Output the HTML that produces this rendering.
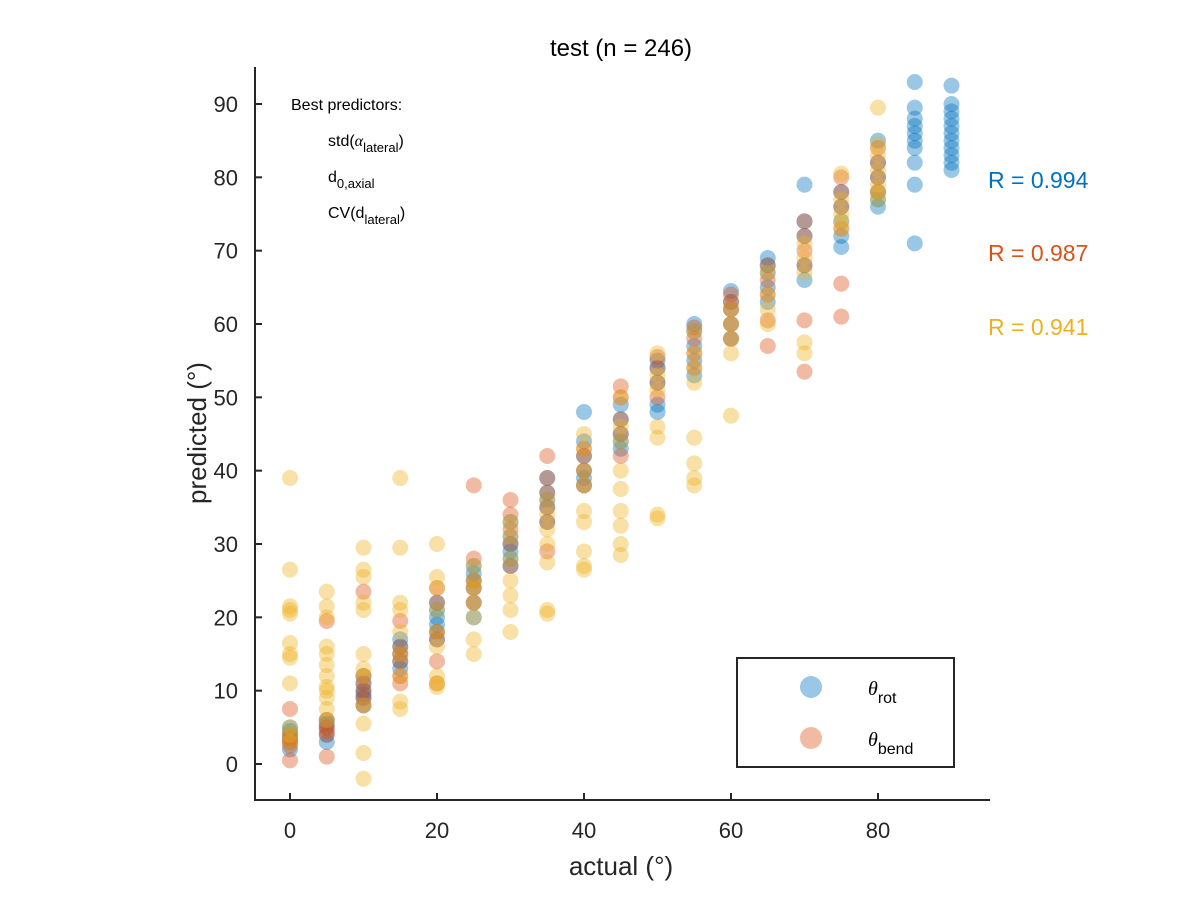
<!DOCTYPE html>
<html><head><meta charset="utf-8"><style>
body{margin:0;background:#fff}
svg text{font-family:"Liberation Sans",Arial,sans-serif;fill:#262626}
</style></head><body>
<svg id="chart" width="1200" height="900" xmlns="http://www.w3.org/2000/svg">
<rect width="1200" height="900" fill="#fff"/>
<text x="621" y="56" font-size="24" text-anchor="middle" style="fill:#000">test (n = 246)</text>
<g id="marks"></g>
<g id="axes"></g>
<text x="621" y="875" font-size="26" text-anchor="middle">actual (°)</text>
<text transform="translate(206,433) rotate(-90)" font-size="26" text-anchor="middle">predicted (°)</text>
<g font-size="16" style="fill:#000">
<text x="291" y="110" style="fill:#000">Best predictors:</text>
<text x="328" y="146" style="fill:#000">std(<tspan font-style="italic" font-family="Liberation Serif">α</tspan><tspan font-size="13" dy="6">lateral</tspan><tspan dy="-6">)</tspan></text>
<text x="328" y="182" style="fill:#000">d<tspan font-size="13" dy="6">0,axial</tspan></text>
<text x="328" y="218" style="fill:#000">CV(d<tspan font-size="13" dy="6">lateral</tspan><tspan dy="-6">)</tspan></text>
</g>
<text x="988" y="188" font-size="23" style="fill:#0072BD">R = 0.994</text>
<text x="988" y="261" font-size="23" style="fill:#D95319">R = 0.987</text>
<text x="988" y="335" font-size="23" style="fill:#EDB120">R = 0.941</text>
<g>
<rect x="737" y="658" width="217" height="109" fill="#fff" stroke="#262626" stroke-width="2"/>
<circle cx="811" cy="687" r="11" fill="#0072BD" fill-opacity="0.4"/>
<text x="868" y="695" font-size="20" style="fill:#000"><tspan font-style="italic" font-family="Liberation Serif">θ</tspan><tspan font-size="16" dy="8">rot</tspan></text>
<circle cx="811" cy="738" r="11" fill="#D95319" fill-opacity="0.4"/>
<text x="868" y="746" font-size="20" style="fill:#000"><tspan font-style="italic" font-family="Liberation Serif">θ</tspan><tspan font-size="16" dy="8">bend</tspan></text>
</g>
</svg>
<script>
const xTicks=[0,20,40,60,80];
const yTicks=[0,10,20,30,40,50,60,70,80,90];
const rotActual=[0,0,0,0,0,0,5,5,5,5,5,10,10,10,10,10,10,15,15,15,15,15,20,20,20,20,20,20,25,25,25,25,25,25,30,30,30,30,30,30,35,35,35,35,35,40,40,40,40,40,40,45,45,45,45,45,50,50,50,50,50,55,55,55,55,55,60,60,60,60,60,65,65,65,65,65,70,70,70,70,70,75,75,75,75,75,80,80,80,80,80,80,85,85,85,85,85,85,85,85,85,85,90,90,90,90,90,90,90,90,90,90,90];
const rotPred=[3,4,5,3.5,2,4.5,5,6,4,5.5,3,9,10,8,11,9.5,12,14,16,13,15,17,18,20,22,21,19,17,22,24,26,25,27,20,28,30,31,33,29,27,33,35,37,36,39,38,40,42,44,48,39,43,45,47,44,49,48,49,52,54,55,53,55,57,60,59,58,60,62,64.5,63,63,65,67,69,68,66,68,72,74,79,72,74,76,78,70.5,76,77,78,80,82,85,79,82,84,85,86,87,88,89.5,93,71,81,82,84,85,86,87,88,89,90,92.5,83];
const bendActual=[0,0,0,0,0,0,5,5,5,5,5,5,10,10,10,10,10,10,15,15,15,15,15,15,20,20,20,20,20,20,25,25,25,25,25,30,30,30,30,30,35,35,35,35,35,35,40,40,40,40,45,45,45,45,45,50,50,50,50,55,55,55,55,60,60,60,60,60,65,65,65,65,65,70,70,70,70,70,70,75,75,75,75,75,75,80,80,80,80];
const bendPred=[0.5,3,3.5,4,7.5,2.5,1,4,5,6,4.5,19.5,8,9,10,11,23.5,12,12,14,15,16,19.5,11,14,17,18,22,24,11,22,24,25,28,38,27,30,32,34,36,33,35,37,39,42,29,38,40,42,43,42,45,47,50,51.5,50,52,54,55.5,54,56,58,59.5,58,60,62,64,63,57,60.5,64,66,68,53.5,60.5,68,70,72,74,61,65.5,73,76,78,80,78,80,82,84];
const thirdActual=[0,0,0,0,0,0,0,0,0,0,0,0,5,5,5,5,5,5,5,5,5,5,5,5,10,10,10,10,10,10,10,10,10,10,10,10,15,15,15,15,15,15,15,15,15,20,20,20,20,20,20,20,20,20,25,25,25,25,25,25,25,30,30,30,30,30,30,30,35,35,35,35,35,35,35,40,40,40,40,40,40,40,40,40,45,45,45,45,45,45,45,45,45,50,50,50,50,50,50,50,55,55,55,55,55,55,55,55,60,60,60,60,60,65,65,65,65,70,70,70,70,70,75,75,75,75,75,80,80,80,80,80,80,80];
const thirdPred=[39,26.5,21,20.5,16.5,15,14.5,11,5,4,3,21.5,23.5,21.5,20,16,15,13.5,12,10.5,10,9,7.5,6,29.5,26.5,25.5,22,21,15,13,12,8,5.5,1.5,-2,39,29.5,22,21,18,15,12,8.5,7.5,30,25.5,24,21,18,16,12,10.5,11,27,25,24,22,20,17,15,33,31,28,25,23,21,18,36,34,32,30,27.5,21,20.5,45,43,40,38,34.5,29,27,26.5,33,50,46,44,40,37.5,34.5,32.5,30,28.5,56,53,51,46,44.5,34,33.5,59,56,54,52,44.5,41,39,38,62,60,58,56,47.5,67,64,62,60,71,69,67,57.5,56,80.5,77,75,74,73,89.5,84.5,83,81,79,78,77];

const NS='http://www.w3.org/2000/svg';
const X0=290,XS=(878-290)/80,Y0=764,YS=(764-104)/90;
const sx=v=>X0+v*XS, sy=v=>Y0-v*YS;
const marks=document.getElementById('marks');
function series(xs,ys,color,name){
  const g=document.createElementNS(NS,'g');
  
  
  xs.forEach((x,i)=>{
    const c=document.createElementNS(NS,'circle');
    
    
    c.setAttribute('cx',sx(x));c.setAttribute('cy',sy(ys[i]));
    c.setAttribute('r',8);c.setAttribute('fill',color);c.setAttribute('fill-opacity',0.4);
    g.appendChild(c);
  });
  marks.appendChild(g);
}
series(rotActual,rotPred,'#0072BD','series-rot');
series(bendActual,bendPred,'#D95319','series-bend');
series(thirdActual,thirdPred,'#EDB120','series-third');

const axes=document.getElementById('axes');
function line(x1,y1,x2,y2,name){
  const l=document.createElementNS(NS,'line');
  
  
  l.setAttribute('x1',x1);l.setAttribute('y1',y1);l.setAttribute('x2',x2);l.setAttribute('y2',y2);
  l.setAttribute('stroke','#262626');l.setAttribute('stroke-width',2);
  axes.appendChild(l);
}
function label(x,y,t,anchor,name){
  const e=document.createElementNS(NS,'text');
  
  
  e.setAttribute('x',x);e.setAttribute('y',y);e.setAttribute('font-size',22);
  e.setAttribute('text-anchor',anchor);e.textContent=t;
  axes.appendChild(e);
}
line(255,67,255,801,'y-axis-line');
line(254,800,990,800,'x-axis-line');
xTicks.forEach(v=>{line(sx(v),800,sx(v),793,'x-tick');label(sx(v),838,v,'middle','x-tick-label');});
yTicks.forEach(v=>{line(255,sy(v),262,sy(v),'y-tick');label(238,sy(v)+8,v,'end','y-tick-label');});
</script>
</body></html>
